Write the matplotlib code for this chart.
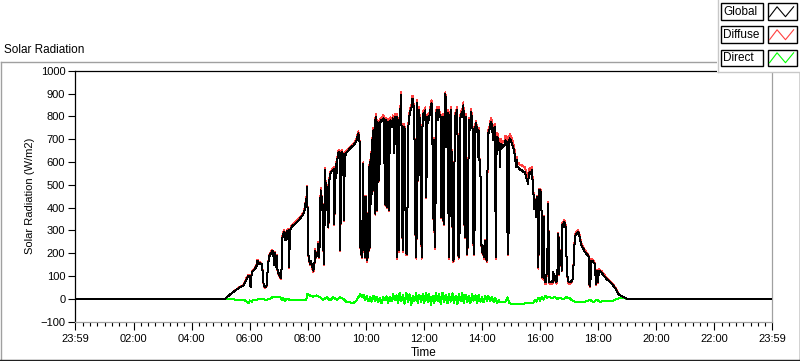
import matplotlib
matplotlib.use("Agg")
import matplotlib.pyplot as plt
from matplotlib.patches import Rectangle
from matplotlib.lines import Line2D
import numpy as np

# datos (hora decimal, W/m2)
horas = [
    0.00, 5.15, 5.32, 5.49, 5.67, 5.78, 5.84, 5.89, 5.95, 5.99,
    6.03, 6.07, 6.12, 6.18, 6.24, 6.27, 6.32, 6.35, 6.41, 6.45,
    6.48, 6.53, 6.58, 6.62, 6.66, 6.72, 6.78, 6.81, 6.84, 6.87,
    6.90, 6.93, 6.96, 7.01, 7.07, 7.10, 7.13, 7.18, 7.23, 7.27,
    7.33, 7.35, 7.39, 7.44, 7.50, 7.56, 7.62, 7.67, 7.73, 7.79,
    7.85, 7.90, 7.94, 7.96, 7.98, 8.01, 8.04, 8.07, 8.11, 8.14,
    8.19, 8.22, 8.26, 8.28, 8.33, 8.36, 8.39, 8.42, 8.44, 8.46,
    8.50, 8.52, 8.55, 8.58, 8.60, 8.63, 8.66, 8.68, 8.71, 8.73,
    8.75, 8.78, 8.81, 8.86, 8.90, 8.91, 8.94, 8.97, 8.99, 9.03,
    9.06, 9.10, 9.12, 9.14, 9.18, 9.22, 9.25, 9.27, 9.30, 9.34,
    9.40, 9.45, 9.51, 9.57, 9.62, 9.68, 9.72, 9.74, 9.76, 9.79,
    9.81, 9.83, 9.85, 9.88, 9.91, 9.93, 9.96, 9.98, 10.00, 10.03,
    10.05, 10.07, 10.10, 10.12, 10.14, 10.16, 10.19, 10.21, 10.23, 10.26,
    10.28, 10.30, 10.33, 10.35, 10.37, 10.39, 10.42, 10.44, 10.46, 10.49,
    10.51, 10.53, 10.56, 10.60, 10.62, 10.66, 10.68, 10.71, 10.75, 10.77,
    10.80, 10.82, 10.85, 10.90, 10.92, 10.96, 10.98, 11.00, 11.04, 11.06,
    11.08, 11.11, 11.13, 11.15, 11.17, 11.21, 11.23, 11.26, 11.28, 11.30,
    11.32, 11.35, 11.37, 11.40, 11.44, 11.47, 11.51, 11.54, 11.58, 11.60,
    11.63, 11.67, 11.69, 11.71, 11.74, 11.76, 11.78, 11.81, 11.83, 11.86,
    11.90, 11.92, 11.94, 11.98, 12.01, 12.05, 12.08, 12.10, 12.13, 12.16,
    12.20, 12.22, 12.24, 12.26, 12.29, 12.31, 12.34, 12.35, 12.37, 12.39,
    12.41, 12.44, 12.46, 12.48, 12.51, 12.53, 12.55, 12.57, 12.60, 12.62,
    12.64, 12.67, 12.69, 12.71, 12.74, 12.76, 12.78, 12.80, 12.83, 12.85,
    12.87, 12.90, 12.92, 12.94, 12.96, 12.99, 13.01, 13.03, 13.06, 13.08,
    13.10, 13.13, 13.15, 13.17, 13.19, 13.22, 13.24, 13.26, 13.29, 13.31,
    13.33, 13.36, 13.38, 13.40, 13.42, 13.45, 13.47, 13.49, 13.52, 13.54,
    13.56, 13.59, 13.61, 13.63, 13.65, 13.68, 13.70, 13.72, 13.74, 13.77,
    13.79, 13.81, 13.84, 13.86, 13.88, 13.91, 13.93, 13.95, 13.97, 14.00,
    14.02, 14.04, 14.07, 14.09, 14.11, 14.14, 14.16, 14.18, 14.20, 14.23,
    14.25, 14.27, 14.30, 14.32, 14.34, 14.37, 14.39, 14.41, 14.43, 14.46,
    14.48, 14.50, 14.53, 14.55, 14.57, 14.60, 14.62, 14.64, 14.67, 14.69,
    14.71, 14.73, 14.76, 14.79, 14.81, 14.85, 14.87, 14.89, 14.92, 14.94,
    14.96, 14.99, 15.03, 15.07, 15.10, 15.13, 15.17, 15.19, 15.21, 15.25,
    15.28, 15.33, 15.36, 15.42, 15.48, 15.51, 15.55, 15.58, 15.62, 15.65,
    15.69, 15.72, 15.75, 15.78, 15.80, 15.82, 15.85, 15.87, 15.89, 15.92,
    15.94, 15.96, 15.98, 16.01, 16.03, 16.05, 16.08, 16.10, 16.14, 16.15,
    16.17, 16.20, 16.23, 16.25, 16.27, 16.29, 16.32, 16.34, 16.37, 16.41,
    16.43, 16.45, 16.48, 16.50, 16.53, 16.56, 16.59, 16.63, 16.65, 16.67,
    16.70, 16.72, 16.74, 16.77, 16.79, 16.81, 16.83, 16.85, 16.88, 16.90,
    16.92, 16.95, 16.98, 17.02, 17.05, 17.09, 17.11, 17.14, 17.18, 17.20,
    17.23, 17.26, 17.30, 17.34, 17.37, 17.41, 17.44, 17.49, 17.54, 17.60,
    17.64, 17.67, 17.69, 17.72, 17.74, 17.76, 17.79, 17.83, 17.87, 17.89,
    17.92, 17.95, 17.97, 17.99, 18.02, 18.04, 18.07, 18.11, 18.18, 18.23,
    18.29, 18.35, 18.41, 18.46, 18.52, 18.58, 18.64, 18.69, 18.75, 18.81,
    18.87, 18.92, 18.98, 19.04, 24.00,
]

glob = [
    0, 0, 19, 36, 51, 58, 73, 87, 102, 95,
    51, 117, 124, 131, 146, 168, 153, 157, 153, 117,
    58, 51, 58, 131, 183, 197, 212, 197, 150, 200,
    140, 190, 120, 110, 90, 139, 278, 293, 256, 293,
    300, 139, 300, 315, 322, 329, 337, 344, 351, 361,
    373, 395, 439, 410, 490, 197, 183, 153, 168, 146,
    124, 139, 212, 183, 197, 241, 183, 285, 476, 388,
    446, 329, 153, 358, 564, 388, 446, 490, 315, 476,
    534, 549, 556, 564, 571, 329, 476, 593, 549, 630,
    644, 637, 212, 637, 644, 622, 344, 637, 630, 644,
    651, 659, 666, 673, 681, 695, 717, 725, 710, 681,
    227, 329, 183, 315, 590, 212, 432, 183, 446, 168,
    373, 183, 227, 578, 227, 637, 417, 695, 534, 739,
    476, 783, 373, 798, 769, 388, 769, 754, 520, 769,
    783, 776, 783, 791, 783, 417, 783, 402, 769, 776,
    388, 776, 783, 754, 791, 783, 637, 798, 791, 798,
    183, 578, 212, 783, 769, 893, 725, 271, 212, 622,
    754, 725, 227, 197, 446, 798, 805, 827, 842, 878,
    871, 769, 373, 271, 183, 857, 827, 520, 827, 769,
    359, 183, 739, 813, 783, 827, 446, 695, 798, 783,
    813, 827, 849, 857, 725, 432, 300, 695, 241, 227,
    798, 827, 813, 783, 827, 798, 805, 798, 359, 520,
    344, 798, 329, 798, 900, 666, 798, 681, 813, 197,
    183, 798, 813, 827, 359, 300, 168, 183, 783, 798,
    813, 805, 827, 300, 183, 197, 783, 798, 813, 820,
    798, 849, 329, 783, 271, 798, 227, 197, 300, 783,
    769, 739, 813, 820, 769, 739, 256, 197, 300, 754,
    769, 754, 747, 622, 739, 608, 608, 520, 241, 227,
    197, 212, 183, 256, 197, 183, 168, 476, 725, 725,
    732, 761, 769, 776, 754, 717, 695, 710, 754, 388,
    183, 710, 710, 695, 681, 651, 578, 681, 659, 673,
    666, 673, 669, 681, 695, 688, 329, 197, 329, 695,
    703, 695, 681, 666, 651, 629, 578, 608, 578, 578,
    571, 564, 564, 556, 556, 534, 520, 505, 549, 556,
    549, 564, 490, 446, 395, 417, 432, 358, 446, 300,
    139, 476, 432, 476, 446, 373, 95, 329, 358, 80,
    73, 73, 124, 183, 417, 271, 73, 73, 73, 80,
    73, 117, 95, 102, 80, 73, 95, 285, 110, 153,
    168, 212, 124, 329, 329, 315, 336, 329, 315, 212,
    124, 87, 73, 73, 73, 80, 80, 124, 234, 271,
    285, 285, 293, 285, 263, 241, 227, 219, 205, 197,
    190, 183, 66, 58, 95, 168, 168, 161, 154, 146,
    66, 117, 124, 73, 117, 124, 117, 117, 102, 95,
    87, 80, 73, 66, 58, 48, 36, 22, 15, 12,
    8, 5, 1, 0, 0,
]

difusa = [
    0, 0, 19, 37, 53, 61, 78, 92, 106, 97,
    50, 121, 128, 135, 152, 172, 156, 160, 156, 118,
    54, 48, 55, 133, 188, 203, 216, 200, 148, 204,
    138, 193, 116, 104, 85, 141, 284, 300, 260, 300,
    306, 136, 305, 320, 327, 334, 342, 349, 356, 366,
    378, 401, 446, 415, 496, 194, 178, 147, 165, 140,
    118, 135, 218, 180, 200, 248, 178, 290, 486, 392,
    452, 325, 148, 362, 575, 390, 452, 498, 312, 482,
    542, 556, 563, 572, 580, 325, 480, 602, 552, 640,
    652, 643, 208, 644, 651, 628, 340, 644, 637, 651,
    658, 666, 673, 680, 688, 703, 726, 734, 716, 686,
    222, 332, 178, 318, 598, 207, 436, 177, 451, 162,
    378, 178, 225, 586, 222, 645, 415, 705, 532, 750,
    472, 795, 368, 810, 778, 384, 780, 762, 516, 780,
    795, 788, 796, 805, 794, 412, 794, 398, 780, 788,
    384, 788, 795, 764, 804, 794, 640, 812, 803, 810,
    176, 582, 206, 795, 778, 905, 732, 266, 205, 630,
    765, 732, 221, 190, 450, 810, 818, 840, 855, 890,
    882, 776, 370, 266, 176, 870, 838, 518, 840, 778,
    355, 176, 748, 826, 794, 840, 442, 702, 810, 794,
    826, 840, 862, 870, 730, 428, 295, 704, 235, 220,
    810, 840, 825, 794, 840, 810, 818, 808, 354, 524,
    340, 810, 324, 810, 905, 672, 810, 686, 826, 190,
    175, 810, 826, 840, 354, 295, 160, 178, 795, 810,
    826, 818, 840, 295, 176, 192, 795, 810, 826, 834,
    810, 862, 324, 795, 265, 810, 221, 190, 302, 795,
    780, 748, 826, 834, 778, 746, 250, 190, 304, 765,
    780, 764, 756, 626, 750, 612, 614, 518, 236, 222,
    190, 208, 176, 258, 190, 176, 161, 480, 738, 738,
    746, 775, 786, 792, 768, 732, 710, 726, 768, 384,
    176, 724, 726, 712, 698, 668, 590, 700, 678, 692,
    686, 694, 690, 702, 716, 710, 330, 192, 334, 715,
    722, 715, 700, 685, 668, 645, 595, 622, 596, 596,
    590, 585, 586, 580, 580, 558, 545, 530, 570, 575,
    566, 578, 500, 452, 398, 422, 440, 360, 452, 302,
    132, 484, 436, 484, 450, 376, 88, 332, 362, 74,
    66, 67, 120, 186, 424, 270, 66, 66, 67, 76,
    67, 115, 92, 100, 76, 67, 92, 290, 106, 154,
    170, 216, 120, 336, 338, 322, 345, 336, 320, 212,
    120, 82, 66, 66, 67, 76, 78, 126, 240, 280,
    294, 296, 302, 292, 270, 248, 234, 226, 212, 204,
    196, 186, 62, 54, 96, 174, 175, 167, 160, 150,
    62, 120, 128, 70, 122, 130, 124, 124, 110, 102,
    94, 86, 79, 71, 62, 52, 39, 24, 16, 12,
    8, 5, 1, 0, 0,
]

horas_directa = [
    0.00, 5.32, 5.55, 5.67, 5.84, 5.95, 6.01, 6.07, 6.12, 6.24,
    6.35, 6.58, 6.70, 6.81, 6.93, 7.04, 7.10, 7.16, 7.21, 7.27,
    7.39, 7.50, 7.94, 7.98, 8.07, 8.19, 8.30, 8.42, 8.53, 8.65,
    8.76, 8.88, 8.99, 9.11, 9.22, 9.34, 9.45, 9.57, 9.68, 9.80,
    9.86, 9.92, 9.97, 10.03, 10.09, 10.15, 10.20, 10.26, 10.31, 10.37,
    10.42, 10.48, 10.54, 10.60, 10.65, 10.71, 10.77, 10.82, 10.88, 10.94,
    10.99, 11.05, 11.11, 11.16, 11.22, 11.28, 11.33, 11.39, 11.45, 11.50,
    11.56, 11.62, 11.67, 11.73, 11.79, 11.84, 11.90, 11.96, 12.01, 12.07,
    12.13, 12.18, 12.24, 12.30, 12.35, 12.41, 12.47, 12.52, 12.58, 12.64,
    12.69, 12.75, 12.81, 12.86, 12.92, 12.98, 13.03, 13.09, 13.15, 13.20,
    13.26, 13.32, 13.37, 13.43, 13.49, 13.54, 13.60, 13.66, 13.71, 13.77,
    13.83, 13.88, 13.94, 14.00, 14.05, 14.11, 14.17, 14.22, 14.28, 14.34,
    14.40, 14.45, 14.51, 14.57, 14.62, 14.80, 14.88, 14.94, 15.20, 15.50,
    15.76, 15.82, 15.88, 15.94, 16.00, 16.06, 16.12, 16.18, 16.24, 16.30,
    16.40, 16.50, 16.60, 16.70, 16.80, 16.90, 17.00, 17.10, 17.26, 17.49,
    17.60, 17.72, 17.83, 17.95, 18.06, 18.29, 18.52, 18.64, 18.75, 18.87,
    19.00, 24.00,
]

directa = [
    0, 0, -4, -7, -7, -19, -7, -12, -4, -4,
    0, -4, 0, 10, 7, 10, -4, 4, -10, 0,
    -4, -7, -7, 21, 15, 10, 15, 7, -4, 7,
    -7, 7, -4, 7, 0, -15, -15, -18, -7, 21,
    10, 18, -5, 12, -10, 8, -12, 15, -8, 10,
    -15, 5, -20, 8, -5, 12, -18, 10, -10, 20,
    -5, 15, -20, 25, -10, 18, -22, 28, -15, 20,
    -25, 15, -10, 25, -20, 18, -15, 22, -18, 28,
    -12, 20, -25, 15, -20, 25, -10, 20, -22, 28,
    -15, 18, -20, 22, -12, 25, -18, 15, -22, 20,
    -10, 25, -20, 18, -15, 12, -18, 22, -8, 15,
    -20, 18, -12, 10, -15, 15, -10, 12, -8, 10,
    -15, 5, -18, -5, -15, -15, 7, -20, -22, -20,
    -18, -5, -12, 5, -8, 10, -3, 14, 5, 10,
    3, 8, 0, 5, -3, 7, 5, -7, -15, -15,
    -10, -4, -15, -4, -12, -10, -7, 0, 3, 4,
    0, 0,
]

etiquetas_x = ["23:59", "02:00", "04:00", "06:00", "08:00", "10:00", "12:00",
               "14:00", "16:00", "18:00", "20:00", "22:00", "23:59"]
series = ["Global", "Diffuse", "Direct"]
colores = ["black", "#ff4040", "#00ff00"]

plt.rcParams["font.family"] = ["Liberation Sans", "DejaVu Sans"]
plt.rcParams["font.size"] = 8

W, H = 800, 361


def fx(x):
    return x / W


def fy(y):
    return 1 - y / H


fig = plt.figure(figsize=(8, 3.61), dpi=100)
ax = fig.add_axes([fx(75), fy(321.7), (772 - 75) / W, (321.7 - 70.7) / H])

ax.plot(horas_directa, directa, color=colores[2], lw=0.72, antialiased=False, zorder=2)
ax.plot(horas, difusa, color=colores[1], lw=0.72, antialiased=False, zorder=3)
ax.plot(horas, glob, color=colores[0], lw=0.72, antialiased=False, zorder=4)

inicio = -1 / 60
ax.set_xlim(inicio, 24 + inicio)
ax.set_ylim(-100, 1000)
ax.set_xticks([inicio] + list(range(2, 24, 2)) + [24 + inicio])
ax.set_xticklabels(etiquetas_x)
ax.set_xticks([m for m in np.arange(0.25, 24, 0.25) if m % 2 != 0], minor=True)
ax.set_yticks(range(-100, 1001, 100))

ax.tick_params(axis="y", length=5, width=0.8, pad=2, direction="out", labelsize=8)
ax.tick_params(axis="x", which="major", length=6, width=0.8, pad=3, labelsize=8)
ax.tick_params(axis="x", which="minor", length=3, width=0.8)

ax.spines["top"].set_color("black")
ax.spines["left"].set_color("black")
ax.spines["right"].set_color("#a0a0a0")
ax.spines["bottom"].set_color("#a0a0a0")
for s in ax.spines.values():
    s.set_linewidth(0.9)

ax.set_ylabel("Solar Radiation (W/m2)", fontsize=8, labelpad=4)
fig.text(fx(423.5), fy(353), "Time", ha="center", va="center", fontsize=8.5)
fig.text(fx(4), fy(50), "Solar Radiation", ha="left", va="center", fontsize=8.5)

# marco exterior
fig.add_artist(Line2D([fx(0.5), fx(717)], [fy(61.5), fy(61.5)], color="#a0a0a0", lw=1))
fig.add_artist(Line2D([fx(0.5), fx(0.5)], [fy(61.5), fy(359)], color="#a0a0a0", lw=1))
fig.add_artist(Line2D([fx(0), fx(800)], [fy(359.5), fy(359.5)], color="#202020", lw=1))
fig.add_artist(Line2D([fx(799.5), fx(799.5)], [fy(72), fy(360)], color="#202020", lw=1))

# leyenda estilo LabVIEW
fig.add_artist(Rectangle((fx(717), fy(72)), fx(83), 72 / H, transform=fig.transFigure,
                         facecolor="white", edgecolor="none", zorder=5))
fig.add_artist(Line2D([fx(717.5), fx(717.5)], [fy(0), fy(72)], color="#c8c8c8", lw=1, zorder=6))
fig.add_artist(Line2D([fx(717.5), fx(800)], [fy(71.5), fy(71.5)], color="#c8c8c8", lw=1, zorder=6))
zig_x = [0.07, 0.33, 0.62, 0.9]
zig_y = [0.2, 0.8, 0.2, 0.8]
for i, nombre in enumerate(series):
    y0 = 3.5 + i * 23
    fig.add_artist(Rectangle((fx(721), fy(y0 + 16.5)), fx(41.5), 16.5 / H, transform=fig.transFigure,
                             facecolor="white", edgecolor="black", lw=1, zorder=6))
    fig.text(fx(723.5), fy(y0 + 8.5), nombre, ha="left", va="center", fontsize=8.5, zorder=7)
    fig.add_artist(Rectangle((fx(767.5), fy(y0 + 16.5)), fx(29), 16.5 / H, transform=fig.transFigure,
                             facecolor="white", edgecolor="black", lw=1, zorder=6))
    fig.add_artist(Line2D([fx(767.5 + 29 * z) for z in zig_x],
                          [fy(y0 + 16.5 - 16.5 * z) for z in zig_y],
                          color=colores[i], lw=0.8, zorder=7))

fig.savefig("out.png", dpi=100, facecolor="white")
